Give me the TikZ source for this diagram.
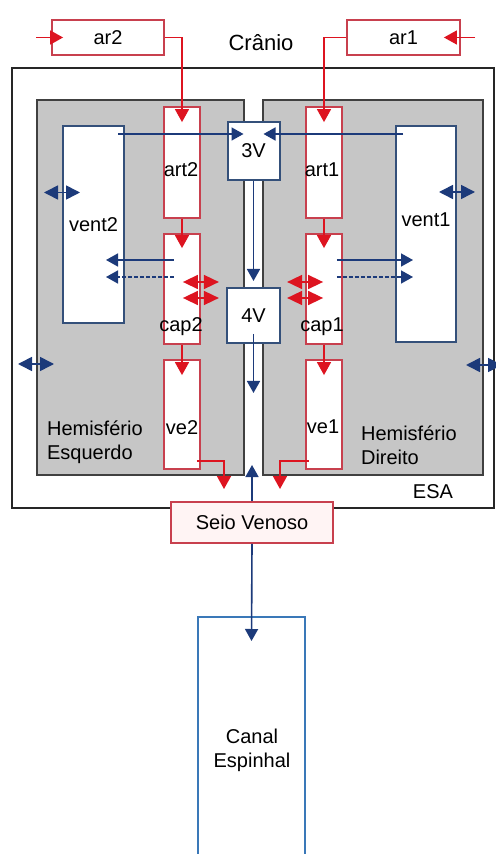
\documentclass[tikz,border=0pt]{standalone}
\usepackage{fontspec}
\setmainfont{Liberation Sans}
\usetikzlibrary{arrows.meta}
\definecolor{boxred}{HTML}{C8404E}
\definecolor{arrred}{HTML}{DD1420}
\definecolor{arrblue}{HTML}{1C3A7A}
\definecolor{ventblue}{HTML}{34507A}
\definecolor{canalblue}{HTML}{3A78B8}
\definecolor{hemigrey}{HTML}{C6C6C6}
\definecolor{hemiline}{HTML}{404040}
\definecolor{seiofill}{HTML}{FFF4F4}

\begin{document}
\begin{tikzpicture}[x=0.5pt,y=-0.5pt,
  redbox/.style={draw=boxred,fill=white,line width=0.9pt,inner sep=0pt},
  bluebox/.style={draw=ventblue,fill=white,line width=1pt,inner sep=0pt},
  hemi/.style={draw=hemiline,fill=hemigrey,line width=1pt,inner sep=0pt},
  tube/.style={redbox,minimum width=18pt},
  redarr/.style={arrred,line width=0.8pt,-{Triangle[length=6.5pt,width=7pt]}},
  reddbl/.style={arrred,line width=0.8pt,{Triangle[length=7.5pt,width=7pt]}-{Triangle[length=7.5pt,width=7pt]}},
  bluearr/.style={arrblue,line width=0.8pt,-{Triangle[length=6pt,width=6.5pt]}},
  bluedbl/.style={arrblue,line width=0.8pt,{Triangle[length=7pt,width=7pt]}-{Triangle[length=7pt,width=7pt]}}]
  \useasboundingbox (0,0) rectangle (496,854);
  \node[draw=black!85,line width=1.4pt,inner sep=0pt,minimum width=241pt,minimum height=220pt] (esa) at (253,288) {};
  \node[hemi,minimum width=103.5pt,minimum height=187.5pt] (hemiL) at (140.5,287.5) {};
  \node[hemi,minimum width=110pt,minimum height=187.5pt] (hemiR) at (373,287.5) {};
  \node[redbox,minimum width=56pt,minimum height=17.5pt] (ar2) at (108,37.5) {ar2};
  \node[redbox,minimum width=56.5pt,minimum height=17.5pt] (ar1) at (403.5,37.5) {ar1};
  \node[font=\fontsize{11}{13}\selectfont] (cranio) at (261,43) {Crânio};
  \node[bluebox,minimum width=30.5pt,minimum height=98.5pt] (vent2) at (93.5,224.5) {vent2};
  \node[bluebox,minimum width=30pt,minimum height=108pt] (vent1) at (426,234) {};
  \node[tube,minimum height=55.5pt] (art2) at (182,162.5) {};
  \node[tube,minimum height=55pt] (cap2) at (182,289) {};
  \node[tube,minimum height=54.5pt] (ve2) at (182,414.5) {};
  \node[tube,minimum height=55.5pt] (art1) at (324,162.5) {};
  \node[tube,minimum height=55pt] (cap1) at (324,289) {};
  \node[tube,minimum height=54.5pt] (ve1) at (324,414.5) {};
  \node[bluebox,minimum width=26pt,minimum height=29pt] (v3) at (253.5,151) {3V};
  \node[bluebox,minimum width=26.5pt,minimum height=27.5pt] (v4) at (253.5,315.5) {4V};
  \node[redbox,fill=seiofill,minimum width=81pt,minimum height=20.5pt] (seio) at (252,522.5) {Seio Venoso};
  \node[draw=canalblue,line width=1pt,fill=white,minimum width=53.5pt,minimum height=121.5pt] (canal) at (251.5,738.5) {};
  \coordinate (ar2-in) at (36,37.5);
  \coordinate (ar1-in) at (475,37.5);
  \coordinate (sv2) at (224,489);
  \coordinate (sv1) at (280,489);
  \coordinate (v4-out) at (253.5,393);
  \coordinate (sv-up) at (252,465);
  \draw[redarr] (ar2-in) -- ([shift={(12,0)}]ar2.west);
  \draw[redarr] (ar1-in) -- ([shift={(-17,0)}]ar1.east);
  \draw[redarr] (ar2.east) -| ([shift={(0,16)}]art2.north);
  \draw[redarr] (ar1.west) -| ([shift={(0,16)}]art1.north);
  \draw[redarr] (art2.south) -- ([shift={(0,15)}]cap2.north);
  \draw[redarr] (art1.south) -- ([shift={(0,15)}]cap1.north);
  \draw[redarr] (cap2.south) -- ([shift={(0,16)}]ve2.north);
  \draw[redarr] (cap1.south) -- ([shift={(0,16)}]ve1.north);
  \draw[redarr] ([shift={(-4,-9)}]ve2.south east) -| (sv2);
  \draw[redarr] ([shift={(4,-9)}]ve1.south west) -| (sv1);
  \draw[reddbl] ([shift={(-18,-7)}]cap2.east) -- ([shift={(18,-7)}]cap2.east);
  \draw[reddbl] ([shift={(-18,9)}]cap2.east) -- ([shift={(18,9)}]cap2.east);
  \draw[reddbl] ([shift={(-18,-7)}]cap1.west) -- ([shift={(18,-7)}]cap1.west);
  \draw[reddbl] ([shift={(-18,9)}]cap1.west) -- ([shift={(18,9)}]cap1.west);
  \draw[bluearr] ([shift={(-7,9)}]vent2.north east) -- ([shift={(17,13)}]v3.north west);
  \draw[bluearr] ([shift={(8,9)}]vent1.north west) -- ([shift={(-17,13)}]v3.north east);
  \draw[bluearr] (v3.south) -- ([shift={(0,-6)}]v4.north);
  \draw[bluearr] ([shift={(0,-10)}]v4.south) -- (v4-out);
  \draw[bluearr] (seio.north) -- (sv-up);
  \draw[bluearr] (seio.south) -- ([shift={(0,25)}]canal.north);
  \draw[bluearr] ([shift={(-27,-29)}]cap2.east) -- ([shift={(-19,35.5)}]vent2.east);
  \draw[bluearr,dash pattern=on 2pt off 1pt] ([shift={(-27,-12)}]cap2.east) -- ([shift={(-19,52.5)}]vent2.east);
  \draw[bluearr] ([shift={(-6,-29)}]cap1.east) -- ([shift={(18,26)}]vent1.west);
  \draw[bluearr,dash pattern=on 2pt off 1pt] ([shift={(-6,-12)}]cap1.east) -- ([shift={(18,43)}]vent1.west);
  \draw[bluedbl] ([shift={(-18,-32)}]vent2.west) -- ([shift={(18,-32)}]vent2.west);
  \draw[bluedbl] ([shift={(-18,-42)}]vent1.east) -- ([shift={(18,-42)}]vent1.east);
  \draw[bluedbl] ([shift={(-18,76.5)}]hemiL.west) -- ([shift={(18,76.5)}]hemiL.west);
  \draw[bluedbl] ([shift={(-18,77.5)}]hemiR.east) -- ([shift={(18,77.5)}]hemiR.east);
  \node (vent1-t) at (426,220) {vent1};
  \node (art2-t) at (181,170) {art2};
  \node (art1-t) at (322,170) {art1};
  \node (cap2-t) at (181,327) {cap2};
  \node (cap1-t) at (322,327) {cap1};
  \node (ve2-t) at (182,428) {ve2};
  \node (ve1-t) at (323,427) {ve1};
  \node[align=left,anchor=west] (hemiL-t) at (40,442) {Hemisfério\\Esquerdo};
  \node[align=left,anchor=west] (hemiR-t) at (354,445) {Hemisfério\\Direito};
  \node (esa-t) at (433,492) {ESA};
  \node[align=center] (canal-t) at (252,750) {Canal\\Espinhal};
\end{tikzpicture}
\end{document}
